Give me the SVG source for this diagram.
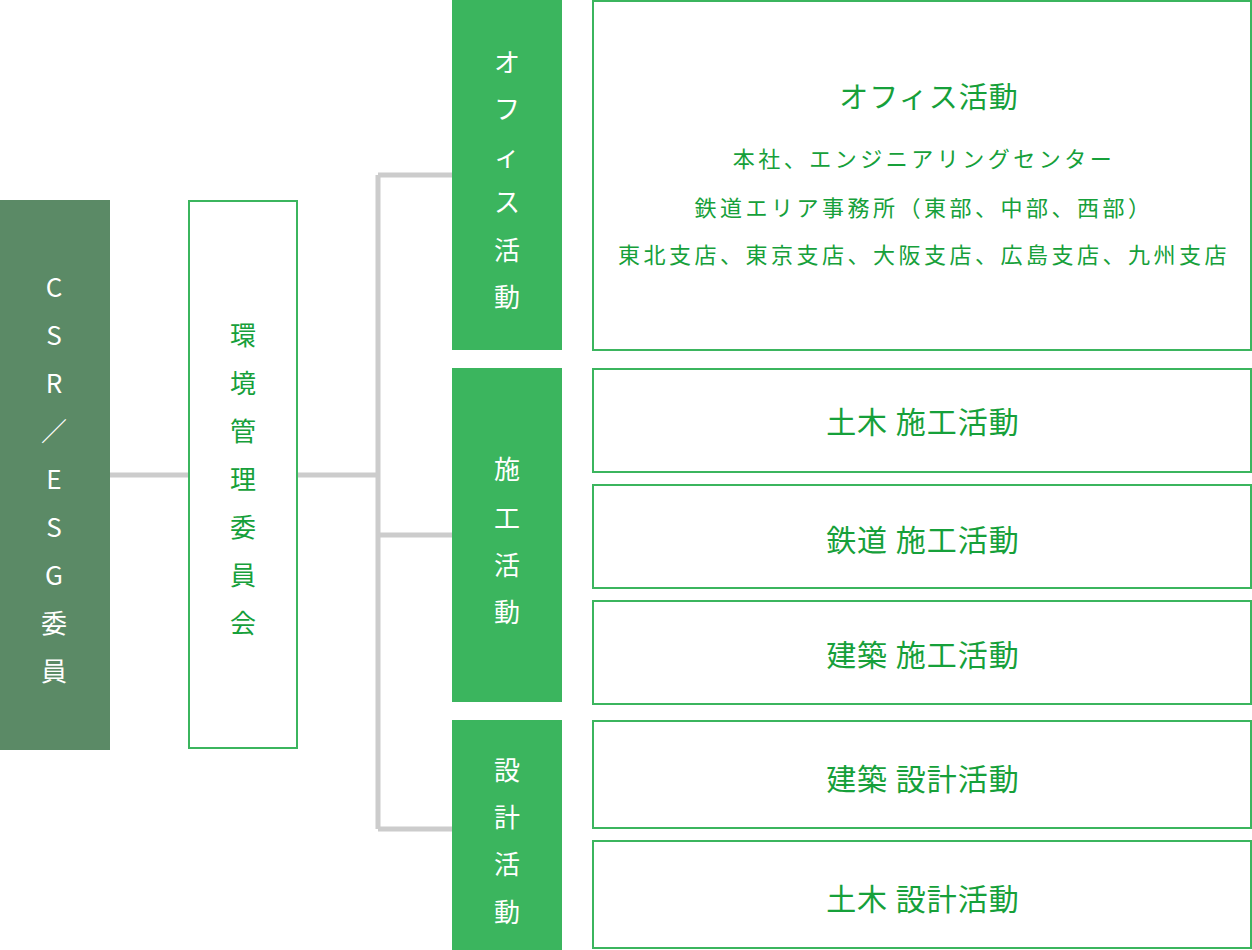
<svg xmlns="http://www.w3.org/2000/svg" width="1252" height="950" viewBox="0 0 1252 950">
<style>
text{font-family:"Noto Sans CJK JP","Noto Sans",sans-serif;text-anchor:middle;dominant-baseline:central}
.v{font-size:26px;fill:#fff}
.g{fill:#16a03a}
.box{fill:#fff;stroke:#3bb55e;stroke-width:2}
.gb{fill:#3bb55e}
.t{font-size:30px;letter-spacing:1px}
.s{font-size:22px;letter-spacing:3.5px}
.c{stroke:#cccccc;stroke-width:5;fill:none}
</style>
<g id="connectors">
<path class="c" d="M109 475H189M297 475H378M378 175V829M378 175H452M378 535H452M378 829H452"/>
</g>
<g id="csr">
<rect x="0" y="200" width="110" height="550" fill="#5b8a66"/>
<text class="v" x="54" y="285">C</text><text class="v" x="54" y="333">S</text><text class="v" x="54" y="381">R</text><text class="v" x="54" y="429">／</text><text class="v" x="54" y="477">E</text><text class="v" x="54" y="525">S</text><text class="v" x="54" y="573">G</text><text class="v" x="54" y="621">委</text><text class="v" x="54" y="669">員</text>
</g>
<g id="kankyo">
<rect class="box" x="189" y="201" width="108" height="547"/>
<text class="v g" x="243" y="333">環</text><text class="v g" x="243" y="381">境</text><text class="v g" x="243" y="429">管</text><text class="v g" x="243" y="477">理</text><text class="v g" x="243" y="525">委</text><text class="v g" x="243" y="573">員</text><text class="v g" x="243" y="621">会</text>
</g>
<g id="office">
<rect class="gb" x="452" y="0" width="110" height="350"/>
<text class="v" x="507" y="60">オ</text><text class="v" x="507" y="107">フ</text><text class="v" x="507" y="154">ィ</text><text class="v" x="507" y="200">ス</text><text class="v" x="507" y="248">活</text><text class="v" x="507" y="295">動</text>
</g>
<g id="sekou">
<rect class="gb" x="452" y="368" width="110" height="334"/>
<text class="v" x="507" y="467">施</text><text class="v" x="507" y="516">工</text><text class="v" x="507" y="563">活</text><text class="v" x="507" y="610">動</text>
</g>
<g id="sekkei">
<rect class="gb" x="452" y="720" width="110" height="230"/>
<text class="v" x="507" y="768">設</text><text class="v" x="507" y="815">計</text><text class="v" x="507" y="862">活</text><text class="v" x="507" y="910">動</text>
</g>
<g id="office-detail">
<rect class="box" x="593" y="1" width="658" height="349"/>
<text class="g t" x="929" y="95" style="font-size:29px">オフィス活動</text>
<text class="g s" x="924" y="157">本社、エンジニアリングセンター</text>
<text class="g s" x="924" y="206">鉄道エリア事務所（東部、中部、西部）</text>
<text class="g s" x="924" y="253">東北支店、東京支店、大阪支店、広島支店、九州支店</text>
</g>
<g id="doboku-sekou"><rect class="box" x="593" y="369" width="658" height="103"/><text class="g t" x="923" y="420">土木 施工活動</text></g>
<g id="tetsudo-sekou"><rect class="box" x="593" y="485" width="658" height="103"/><text class="g t" x="923" y="538">鉄道 施工活動</text></g>
<g id="kenchiku-sekou"><rect class="box" x="593" y="601" width="658" height="103"/><text class="g t" x="923" y="653">建築 施工活動</text></g>
<g id="kenchiku-sekkei"><rect class="box" x="593" y="721" width="658" height="107"/><text class="g t" x="923" y="777">建築 設計活動</text></g>
<g id="doboku-sekkei"><rect class="box" x="593" y="841" width="658" height="107"/><text class="g t" x="923" y="897">土木 設計活動</text></g>
</svg>
